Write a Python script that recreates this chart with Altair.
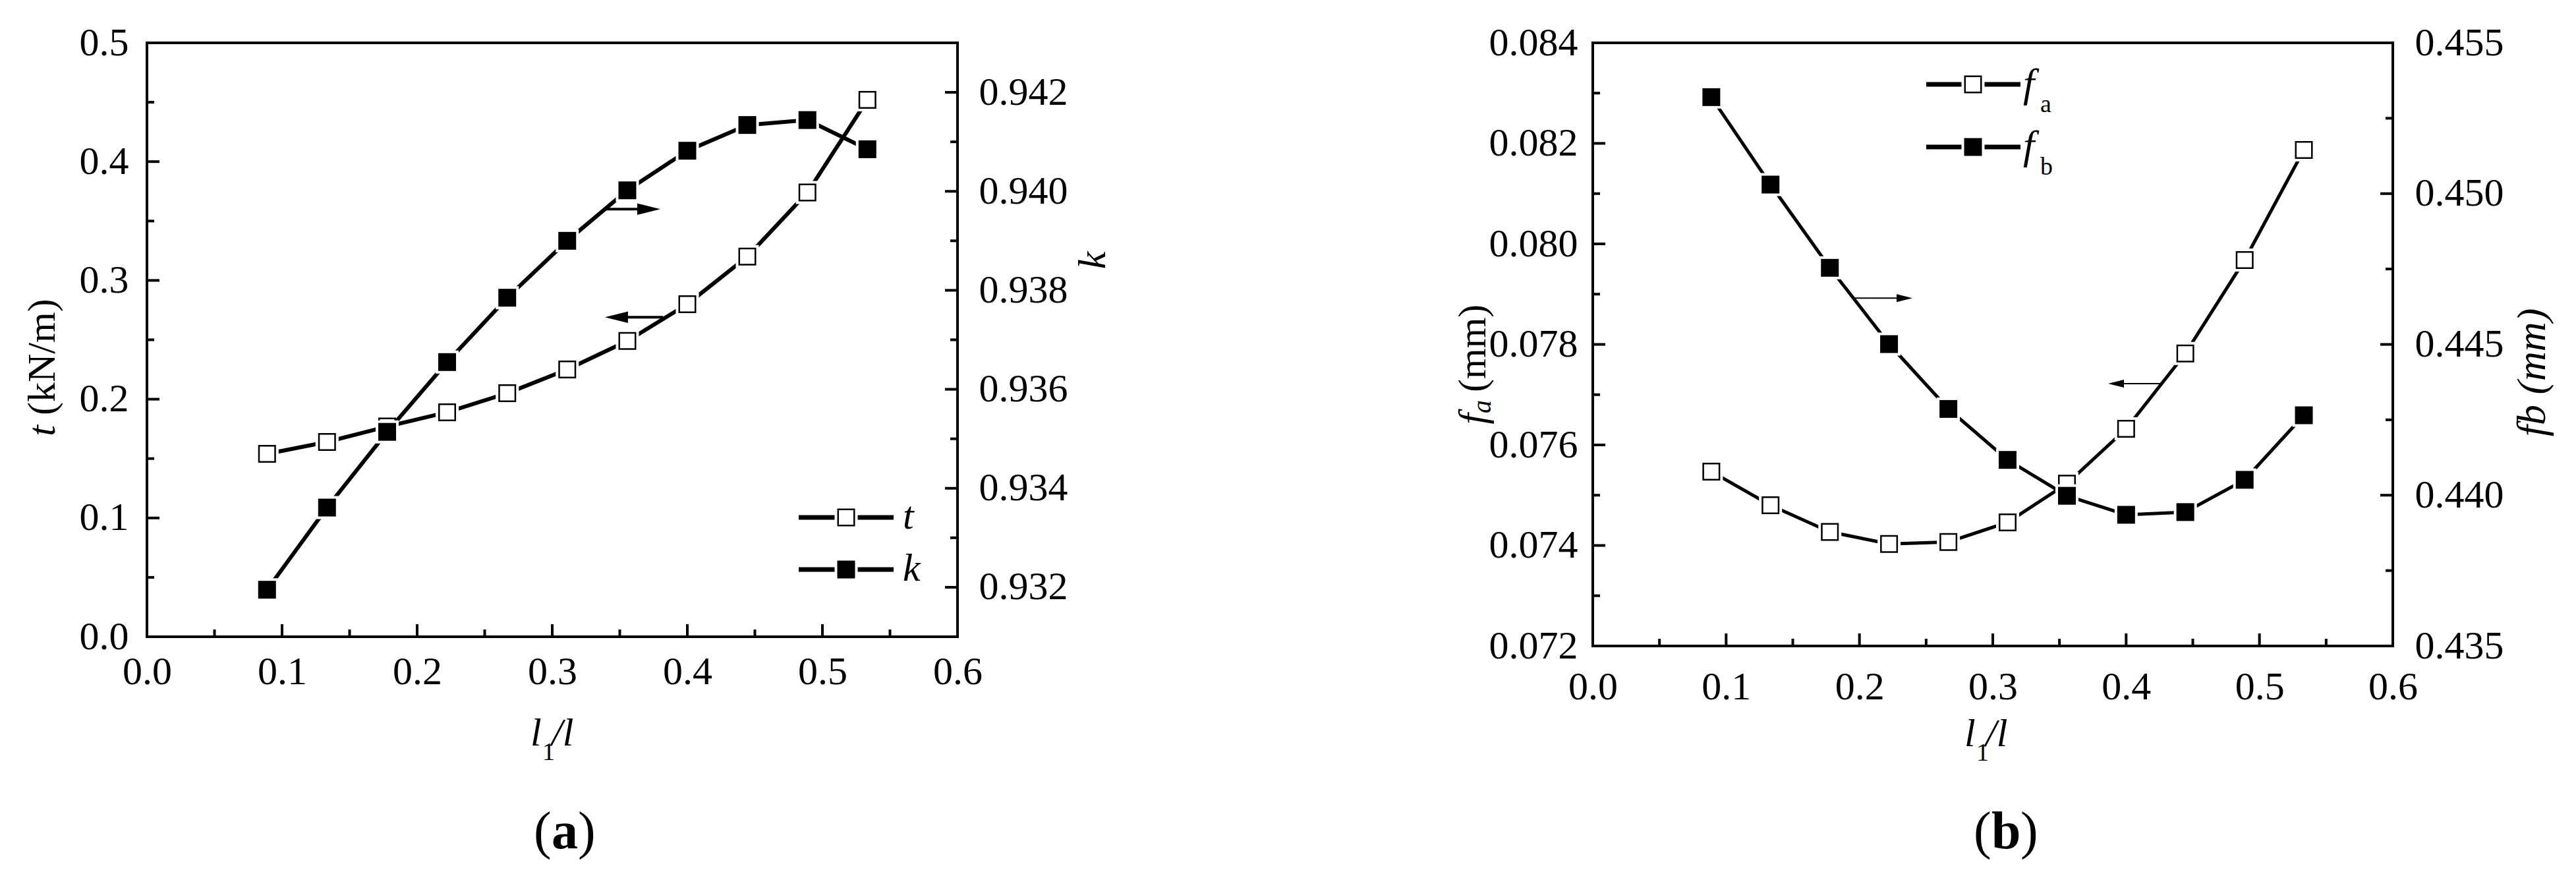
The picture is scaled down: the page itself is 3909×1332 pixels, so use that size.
import altair as alt
import pandas as pd

FONT = "Liberation Serif"

# ---------------- data ----------------
l1_over_l = [0.0889, 0.1333, 0.1778, 0.2222, 0.2667, 0.3111, 0.3556, 0.4000, 0.4444, 0.4889, 0.5333]
t_kn_m = [0.154, 0.164, 0.177, 0.189, 0.205, 0.225, 0.249, 0.280, 0.320, 0.374, 0.452]
k_vals = [0.93195, 0.93361, 0.93514, 0.93655, 0.93785, 0.93900, 0.94002, 0.94082, 0.94134, 0.94144, 0.94085]
fa_mm = [0.07547, 0.07480, 0.07427, 0.07403, 0.07407, 0.07446, 0.07523, 0.07632, 0.07782, 0.07968, 0.08187]
fb_mm = [0.45320, 0.45030, 0.44754, 0.44501, 0.44286, 0.44117, 0.43998, 0.43935, 0.43944, 0.44051, 0.44265]

# tick values
x_major = [0.0, 0.1, 0.2, 0.3, 0.4, 0.5, 0.6]
x_minor = [0.05, 0.15, 0.25, 0.35, 0.45, 0.55]
t_major = [0.0, 0.1, 0.2, 0.3, 0.4, 0.5]
t_minor = [0.05, 0.15, 0.25, 0.35, 0.45]
k_major = [0.932, 0.934, 0.936, 0.938, 0.940, 0.942]
k_minor = [0.933, 0.935, 0.937, 0.939, 0.941]
fa_major = [0.072, 0.074, 0.076, 0.078, 0.080, 0.082, 0.084]
fa_minor = [0.073, 0.075, 0.077, 0.079, 0.081, 0.083]
fb_major = [0.435, 0.440, 0.445, 0.450, 0.455]
fb_minor = [0.4375, 0.4425, 0.4475, 0.4525]

# annotation arrows (start x, end x, y on the left axis)
arrow_a_x0 = [0.340, 0.382]
arrow_a_x1 = [0.380, 0.339]
arrow_a_y = [0.360, 0.269]
arrow_a_dir = ["right", "left"]
arrow_b_x0 = [0.195, 0.4265]
arrow_b_x1 = [0.2397, 0.3865]
arrow_b_y = [0.07892, 0.07722]
arrow_b_dir = ["right", "left"]

# ---------------- layout constants ----------------
W_A, H_A = 1230, 901
W_B, H_B = 1214, 915
SPACING = 964
MAJ, MIN = 19, 11
HALO = 1225
ONE = alt.Data(values=[{"o": 0}])


def axis_x(pad):
    return alt.Axis(values=x_major, format=".1f", labelFlush=False, labelPadding=pad,
                    ticks=False, domain=False, grid=False, title=None, labelOverlap=False)


def axis_y(values, fmt, orient, pad):
    return alt.Axis(values=values, format=fmt, orient=orient, labelPadding=pad,
                    ticks=False, domain=False, grid=False, title=None, labelOverlap=False)


def text_mark(s, x, y, size=60, style="normal", weight="normal", align="left",
              baseline="alphabetic", angle=None):
    kw = dict(text=s, font=FONT, fontSize=size, fontStyle=style, fontWeight=weight,
              align=align, baseline=baseline, color="black")
    if angle is not None:
        kw["angle"] = angle
    return alt.Chart(ONE).mark_text(**kw).encode(x=alt.value(x), y=alt.value(y))


def marker(chart, filled):
    if filled:
        return chart.mark_point(shape="square", filled=True, fill="black", size=729, opacity=1)
    return chart.mark_point(shape="square", filled=True, fill="white", stroke="black",
                            strokeWidth=2.5, size=600, opacity=1)


def xy_layers(df, yfield, xs, xax, ys, yax, filled, lw):
    enc = dict(x=alt.X("x:Q", scale=xs, axis=xax), y=alt.Y(f"{yfield}:Q", scale=ys, axis=yax))
    line = alt.Chart(df).mark_line(color="black", strokeWidth=lw).encode(**enc)
    halo = alt.Chart(df).mark_point(shape="square", filled=True, fill="white",
                                    size=HALO, opacity=1).encode(**enc)
    pts = marker(alt.Chart(df), filled).encode(**enc)
    return [line, halo, pts]


def yticks(vals, ys, yax, x0, x1):
    d = pd.DataFrame({"v": vals})
    return alt.Chart(d).mark_rule(color="black", strokeWidth=4).encode(
        y=alt.Y("v:Q", scale=ys, axis=yax), x=alt.value(x0), x2=alt.value(x1))


def xticks(vals, xs, xax, H, L):
    d = pd.DataFrame({"v": vals})
    return alt.Chart(d).mark_rule(color="black", strokeWidth=4).encode(
        x=alt.X("v:Q", scale=xs, axis=xax), y=alt.value(H), y2=alt.value(H - L))


def arrows(x0, x1, yv, dirs, xs, xax, ys, yax, width, L):
    d = pd.DataFrame({"x0": x0, "x1": x1, "y": yv, "dir": dirs})
    out = []
    for dname, path, off in [("right", "M 0 0 L -2 -0.5 L -2 0.5 Z", -L / 2),
                             ("left", "M 0 0 L 2 -0.5 L 2 0.5 Z", L / 2)]:
        base = alt.Chart(d).transform_filter(f"datum.dir == '{dname}'")
        out.append(base.mark_rule(color="black", strokeWidth=width, x2Offset=off).encode(
            x=alt.X("x0:Q", scale=xs, axis=xax), x2="x1:Q",
            y=alt.Y("y:Q", scale=ys, axis=yax)))
        out.append(base.mark_point(shape=path, filled=True, fill="black", size=L * L,
                                   opacity=1).encode(
            x=alt.X("x1:Q", scale=xs, axis=xax), y=alt.Y("y:Q", scale=ys, axis=yax)))
    return out


def legend_row(x0, x1, xm, y, filled):
    line = alt.Chart(ONE).mark_rule(color="black", strokeWidth=7).encode(
        x=alt.value(x0), x2=alt.value(x1), y=alt.value(y))
    halo = alt.Chart(ONE).mark_point(shape="square", filled=True, fill="white",
                                     size=HALO, opacity=1).encode(x=alt.value(xm), y=alt.value(y))
    pts = marker(alt.Chart(ONE), filled).encode(x=alt.value(xm), y=alt.value(y))
    return [line, halo, pts]


# ---------------- panel (a) ----------------
df_a = pd.DataFrame({"x": l1_over_l, "t": t_kn_m, "k": k_vals})
xs_a = alt.Scale(domain=[0, 0.6], nice=False, zero=False)
ts = alt.Scale(domain=[0, 0.5], nice=False, zero=False)
ks = alt.Scale(domain=[0.931, 0.943], nice=False, zero=False)
xax_a = axis_x(24)
tax = axis_y(t_major, ".1f", "left", 28)
kax = axis_y(k_major, ".3f", "right", 32)

anchor = alt.Chart(ONE).mark_rule(color="white", strokeWidth=1).encode(
    x=alt.value(-212), x2=alt.value(-211), y=alt.value(-54), y2=alt.value(-54))

group_t = alt.layer(
    anchor,
    xticks(x_major, xs_a, xax_a, H_A, MAJ),
    xticks(x_minor, xs_a, xax_a, H_A, MIN),
    yticks(t_major, ts, tax, 0, MAJ),
    yticks(t_minor, ts, tax, 0, MIN),
    *xy_layers(df_a, "t", xs_a, xax_a, ts, tax, False, 6),
    *arrows(arrow_a_x0, arrow_a_x1, arrow_a_y, arrow_a_dir, xs_a, xax_a, ts, tax, 4, 35),
    *legend_row(989, 1133, 1061, 720, False),
    *legend_row(989, 1133, 1061, 799, True),
    text_mark("t", 1147, 737, style="italic"),
    text_mark("k", 1147, 816, style="italic"),
    # left axis title: t (kN/m)
    text_mark("(kN/m)", -158, 565, align="left", baseline="middle", angle=270),
    text_mark("t", -158, 580, style="italic", align="right", baseline="middle", angle=270),
    # right axis title
    text_mark("k", 1436, 330, style="italic", align="center", baseline="middle", angle=270),
    # x title l1/l
    text_mark("l", 582, 1066, style="italic"),
    text_mark("1", 600, 1088, size=38),
    text_mark("/l", 614, 1066, style="italic"),
    # panel label (a)
    text_mark("(", 587, 1222, size=80),
    text_mark("a", 614, 1222, size=80, weight="bold"),
    text_mark(")", 654, 1222, size=80),
)

group_k = alt.layer(
    yticks(k_major, ks, kax, W_A, W_A - MAJ),
    yticks(k_minor, ks, kax, W_A, W_A - MIN),
    *xy_layers(df_a, "k", xs_a, xax_a, ks, kax, True, 6),
)

panel_a = alt.layer(group_t, group_k).resolve_scale(y="independent").properties(
    width=W_A, height=H_A)

# ---------------- panel (b) ----------------
df_b = pd.DataFrame({"x": l1_over_l, "fa": fa_mm, "fb": fb_mm})
xs_b = alt.Scale(domain=[0, 0.6], nice=False, zero=False)
fas = alt.Scale(domain=[0.072, 0.084], nice=False, zero=False)
fbs = alt.Scale(domain=[0.435, 0.455], nice=False, zero=False)
xax_b = axis_x(33)
faax = axis_y(fa_major, ".3f", "left", 23)
fbax = axis_y(fb_major, ".3f", "right", 33)

group_fa = alt.layer(
    xticks(x_major, xs_b, xax_b, H_B, MAJ),
    xticks(x_minor, xs_b, xax_b, H_B, MIN),
    yticks(fa_major, fas, faax, 0, MAJ),
    yticks(fa_minor, fas, faax, 0, MIN),
    *xy_layers(df_b, "fa", xs_b, xax_b, fas, faax, False, 5),
    *arrows(arrow_b_x0, arrow_b_x1, arrow_b_y, arrow_b_dir, xs_b, xax_b, fas, faax, 2, 24),
    *legend_row(506, 649, 577, 63, False),
    *legend_row(506, 649, 577, 158, True),
    text_mark("f", 653, 82, size=62, style="italic"),
    text_mark("a", 679, 105, size=38),
    text_mark("f", 653, 176, size=62, style="italic"),
    text_mark("b", 679, 200, size=38),
    # left axis title f_a (mm)
    text_mark("(mm)", -181, 530, align="left", baseline="middle", angle=270),
    text_mark("a", -167, 542, size=40, style="italic", align="right", baseline="middle", angle=270),
    text_mark("f", -181, 562, style="italic", align="right", baseline="middle", angle=270),
    # right axis title
    text_mark("fb (mm)", 1426, 500, size=62, style="italic", align="center",
              baseline="middle", angle=270),
    # x title l1/l
    text_mark("l", 564, 1067, style="italic"),
    text_mark("1", 582, 1089, size=38),
    text_mark("/l", 596, 1067, style="italic"),
    # panel label (b)
    text_mark("(", 578, 1222, size=80),
    text_mark("b", 605, 1222, size=80, weight="bold"),
    text_mark(")", 649, 1222, size=80),
)

group_fb = alt.layer(
    yticks(fb_major, fbs, fbax, W_B, W_B - MAJ),
    yticks(fb_minor, fbs, fbax, W_B, W_B - MIN),
    *xy_layers(df_b, "fb", xs_b, xax_b, fbs, fbax, True, 5),
)

panel_b = alt.layer(group_fa, group_fb).resolve_scale(y="independent").properties(
    width=W_B, height=H_B)

chart = alt.hconcat(panel_a, panel_b, spacing=SPACING, bounds="flush").properties(
    padding=0, background="white"
).configure_view(
    stroke="black", strokeWidth=4
).configure_axis(
    labelFont=FONT, labelFontSize=60, labelColor="black"
)

chart.save("out.html", embed_options={"renderer": "svg", "actions": False})
